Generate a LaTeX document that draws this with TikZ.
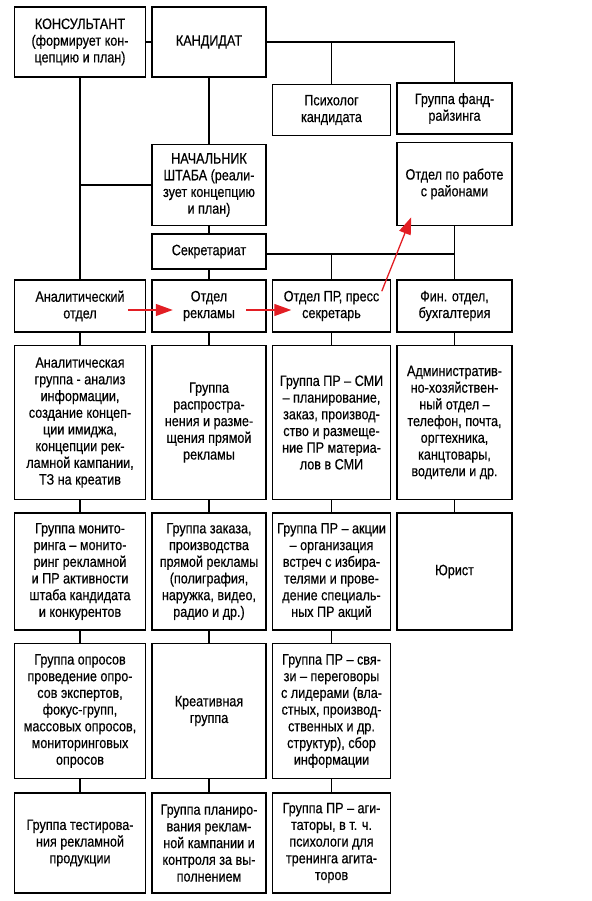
\documentclass[tikz,border=0pt]{standalone}
\usepackage{fontspec}
\setmainfont{Liberation Sans}[FakeStretch=0.84, FakeBold=0.4]
\usepackage{tikz}
\usetikzlibrary{arrows.meta, positioning, calc}
\definecolor{arrred}{RGB}{226,30,36}

\begin{document}
\begin{tikzpicture}[
      x=1pt, y=1pt,
      node distance = 12pt and 5pt,
      unit/.style  = {draw, line width=1.5pt, align=center, inner sep=2pt,
                      font=\fontsize{15pt}{16.7pt}\selectfont},
      colA/.style  = {unit, minimum width=131pt},
      colB/.style  = {unit, minimum width=114pt},
      colC/.style  = {unit, minimum width=118pt},
      colD/.style  = {unit, minimum width=115pt},
      link/.style  = {line width=1.5pt},
      redarr/.style= {-{Triangle[length=17pt, width=12pt]}, line width=1.3pt,
                      arrred},
    ]
    \useasboundingbox (0,0) rectangle (591,-901);

    % top of the staff
    \node[colA, minimum height=70pt] (konsult) at (80,-42)
      {КОНСУЛЬТАНТ\\(формирует кон-\\цепцию и план)};
    \node[colB, minimum height=70pt, right=of konsult] (kand) {КАНДИДАТ};
    \node[colB, minimum height=81pt, below=66pt of kand] (nach)
      {НАЧАЛЬНИК\\ШТАБА (реали-\\зует концепцию\\и план)};
    \node[colB, minimum height=35pt, below=7pt of nach] (sekr) {Секретариат};

    % departments
    \node[colA, minimum height=52pt] (anal) at (80,-306)
      {Аналитический\\отдел};
    \node[colB, minimum height=52pt, right=of anal]    (reklama)
      {Отдел\\рекламы};
    \node[colC, minimum height=52pt, right=of reklama] (pr)
      {Отдел ПР, пресс\\секретарь};
    \node[colD, minimum height=52pt, right=of pr]      (fin)
      {Фин. отдел,\\бухгалтерия};

    \node[colC, minimum height=51pt, above=143pt of pr] (psych)
      {Психолог\\кандидата};
    \node[colD, minimum height=83pt, above=53pt of fin] (rayon)
      {Отдел по работе\\с районами};
    \node[colD, minimum height=51pt, above=7pt of rayon] (fund)
      {Группа фанд-\\райзинга};

    % groups
    \node[colA, minimum height=154pt, below=of anal] (analgr)
      {Аналитическая\\группа - анализ\\информации,\\создание концеп-\\ции имиджа,\\концепции рек-\\ламной кампании,\\ТЗ на креатив};
    \node[colB, minimum height=154pt, below=of reklama] (rasprgr)
      {Группа\\распростра-\\нения и разме-\\щения прямой\\рекламы};
    \node[colC, minimum height=154pt, below=of pr] (smigr)
      {Группа ПР – СМИ\\– планирование,\\заказ, производ-\\ство и размеще-\\ние ПР материа-\\лов в СМИ};
    \node[colD, minimum height=154pt, below=of fin] (admgr)
      {Административ-\\но-хозяйствен-\\ный отдел –\\телефон, почта,\\оргтехника,\\канцтовары,\\водители и др.};

    \node[colA, minimum height=117pt, below=of analgr] (monitgr)
      {Группа монито-\\ринга – монито-\\ринг рекламной\\и ПР активности\\штаба кандидата\\и конкурентов};
    \node[colB, minimum height=117pt, below=of rasprgr] (zakazgr)
      {Группа заказа,\\производства\\прямой рекламы\\(полиграфия,\\наружка, видео,\\радио и др.)};
    \node[colC, minimum height=117pt, below=of smigr] (akciigr)
      {Группа ПР – акции\\– организация\\встреч с избира-\\телями и прове-\\дение специаль-\\ных ПР акций};
    \node[colD, minimum height=117pt, below=of admgr] (jurist) {Юрист};

    \node[colA, minimum height=135pt, below=of monitgr] (oprosgr)
      {Группа опросов\\проведение опро-\\сов экспертов,\\фокус-групп,\\массовых опросов,\\мониторинговых\\опросов};
    \node[colB, minimum height=135pt, below=of zakazgr] (kreatgr)
      {Креативная\\группа};
    \node[colC, minimum height=135pt, below=of akciigr] (svjazgr)
      {Группа ПР – свя-\\зи – переговоры\\с лидерами (вла-\\стных, производ-\\ственных и др.\\структур), сбор\\информации};

    \node[colA, minimum height=100pt, below=13pt of oprosgr] (testgr)
      {Группа тестирова-\\ния рекламной\\продукции};
    \node[colB, minimum height=100pt, below=13pt of kreatgr] (plangr)
      {Группа планиро-\\вания реклам-\\ной кампании и\\контроля за вы-\\полнением};
    \node[colC, minimum height=100pt, below=13pt of svjazgr] (agitgr)
      {Группа ПР – аги-\\таторы, в т. ч.\\психологи для\\тренинга агита-\\торов};

    \draw[link] (konsult) -- (kand);
    \draw[link] (kand.east) -| (fund.north);
    \draw[link] (psych.north) -- (psych.north |- kand.east);
    \draw[link] (konsult.south) -- (anal.north);
    \draw[link] (nach.west) -- (konsult.south |- nach.west);
    \draw[link] (kand) -- (nach);
    \draw[link] (nach) -- (sekr);
    \draw[link] (sekr) -- (reklama);
    \draw[link] (rayon) -- (fin);
    \draw[link] ([yshift=-2.5pt]sekr.east) -- ([yshift=-2.5pt]sekr.east -| fin.north);
    \draw[link] (pr.north) -- ([yshift=-2.5pt]pr.north |- sekr.east);

    \draw[link] (anal) -- (analgr);
    \draw[link] (analgr) -- (monitgr);
    \draw[link] (monitgr) -- (oprosgr);
    \draw[link] (oprosgr) -- (testgr);
    \draw[link] (reklama) -- (rasprgr);
    \draw[link] (rasprgr) -- (zakazgr);
    \draw[link] (zakazgr) -- (kreatgr);
    \draw[link] (kreatgr) -- (plangr);
    \draw[link] (pr) -- (smigr);
    \draw[link] (smigr) -- (akciigr);
    \draw[link] (akciigr) -- (svjazgr);
    \draw[link] (svjazgr) -- (agitgr);
    \draw[link] (fin) -- (admgr);
    \draw[link] (admgr) -- (jurist);

    % red arrows
    \draw[redarr] ([shift={(-18.5,-4)}]anal.east) -- ([shift={(21.5,-4)}]reklama.west);
    \draw[redarr] ([shift={(-20.5,-4)}]reklama.east) -- ([shift={(19.5,-4)}]pr.west);
    \draw[redarr] ([shift={(-9.5,-12)}]pr.north east) -- ([shift={(15,9)}]rayon.south west);

  \end{tikzpicture}
\end{document}
